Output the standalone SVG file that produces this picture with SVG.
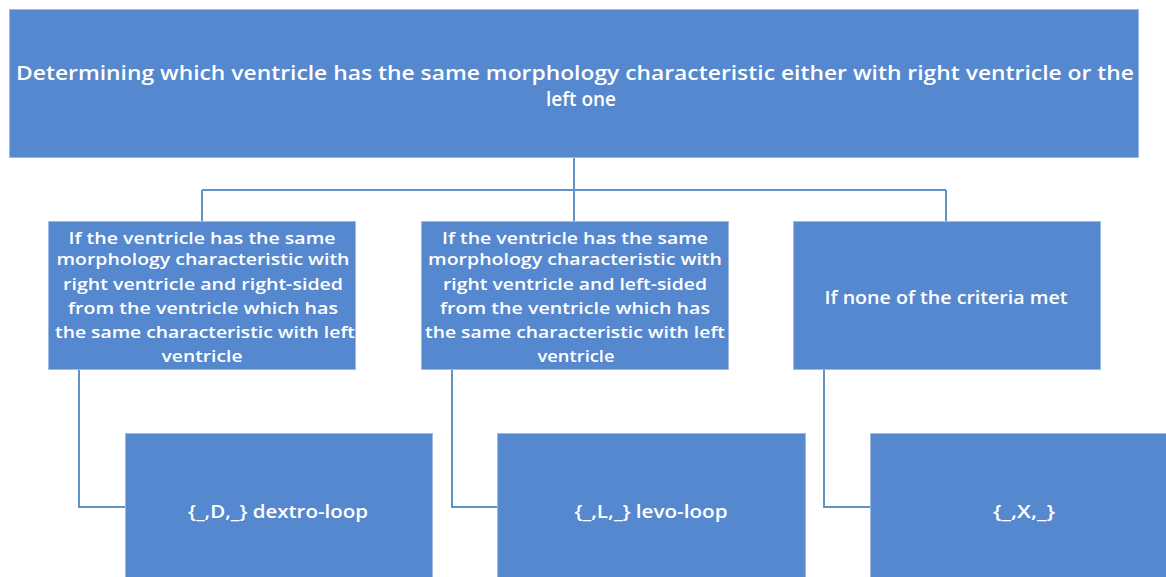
<svg xmlns="http://www.w3.org/2000/svg" width="1166" height="577" viewBox="0 0 1166 577">
<style>
.box{fill:#5588cf;stroke:#9dbbe2;stroke-width:1}
.t{font-family:"Open Sans","Liberation Sans",Arial,sans-serif;font-weight:600;fill:#ffffff;text-anchor:middle}
.c{fill:none;stroke:#5e93c6;stroke-width:2}
</style>
<rect width="1166" height="577" fill="#ffffff"/>
<g id="connectors">
<path class="c" d="M574 158 V190 M202 190 H946 M202 190 V221 M574 190 V221 M946 190 V221"/>
<path class="c" d="M79 370 V507 H125"/>
<path class="c" d="M452 370 V507 H497"/>
<path class="c" d="M824 370 V507 H870"/>
</g>
<g id="root">
<rect class="box" x="9.5" y="9.5" width="1129" height="148"/>
<text class="t" font-size="20" x="575" y="80" textLength="1118" lengthAdjust="spacingAndGlyphs">Determining which ventricle has the same morphology characteristic either with right ventricle or the</text>
<text class="t" font-size="20" x="581" y="106" textLength="70" lengthAdjust="spacingAndGlyphs">left one</text>
</g>
<g id="cond1" font-size="16.5">
<rect class="box" x="48.5" y="221.5" width="307" height="148"/>
<text class="t" x="202" y="244" textLength="267" lengthAdjust="spacingAndGlyphs">If the ventricle has the same</text>
<text class="t" x="203" y="265" textLength="293" lengthAdjust="spacingAndGlyphs">morphology characteristic with</text>
<text class="t" x="203" y="290" textLength="280" lengthAdjust="spacingAndGlyphs">right ventricle and right-sided</text>
<text class="t" x="203" y="314" textLength="270" lengthAdjust="spacingAndGlyphs">from the ventricle which has</text>
<text class="t" x="205" y="338" textLength="300" lengthAdjust="spacingAndGlyphs">the same characteristic with left</text>
<text class="t" x="202" y="362" textLength="81" lengthAdjust="spacingAndGlyphs">ventricle</text>
</g>
<g id="cond2" font-size="16.5">
<rect class="box" x="421.5" y="221.5" width="307" height="148"/>
<text class="t" x="575" y="244" textLength="266" lengthAdjust="spacingAndGlyphs">If the ventricle has the same</text>
<text class="t" x="575" y="265" textLength="294" lengthAdjust="spacingAndGlyphs">morphology characteristic with</text>
<text class="t" x="575" y="290" textLength="264" lengthAdjust="spacingAndGlyphs">right ventricle and left-sided</text>
<text class="t" x="575" y="314" textLength="270" lengthAdjust="spacingAndGlyphs">from the ventricle which has</text>
<text class="t" x="575" y="338" textLength="300" lengthAdjust="spacingAndGlyphs">the same characteristic with left</text>
<text class="t" x="576" y="362" textLength="77" lengthAdjust="spacingAndGlyphs">ventricle</text>
</g>
<g id="cond3">
<rect class="box" x="793.5" y="221.5" width="307" height="148"/>
<text class="t" font-size="18.5" x="946" y="304" textLength="243" lengthAdjust="spacingAndGlyphs">If none of the criteria met</text>
</g>
<g id="dextro">
<rect class="box" x="125.5" y="433.5" width="307" height="150"/>
<text class="t" font-size="18.5" x="278" y="518" textLength="180" lengthAdjust="spacingAndGlyphs">{_,D,_} dextro-loop</text>
</g>
<g id="levo">
<rect class="box" x="497.5" y="433.5" width="308" height="150"/>
<text class="t" font-size="18.5" x="651" y="518" textLength="153" lengthAdjust="spacingAndGlyphs">{_,L,_} levo-loop</text>
</g>
<g id="x">
<rect class="box" x="870.5" y="433.5" width="310" height="150"/>
<text class="t" font-size="18.5" x="1024" y="518" textLength="62" lengthAdjust="spacingAndGlyphs">{_,X,_}</text>
</g>
</svg>
